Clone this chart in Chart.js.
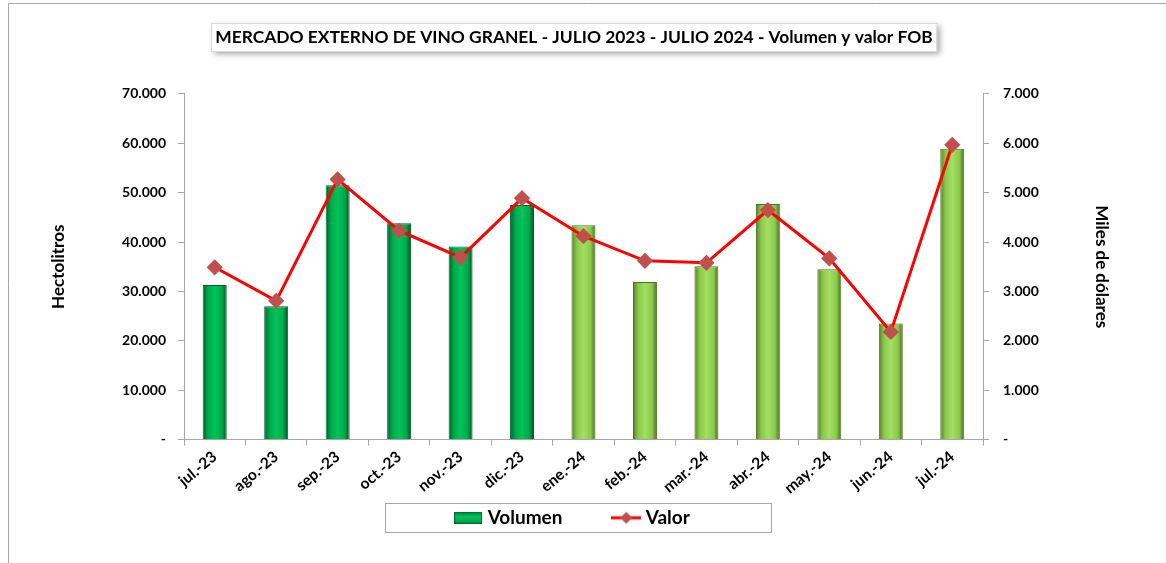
<!DOCTYPE html>
<html>
<head>
<meta charset="utf-8">
<script src="https://cdn.jsdelivr.net/npm/chart.js@4"></script>
<style>
  html, body { margin: 0; padding: 0; background: #fff; }
  #wrap { width: 1166px; height: 563px; }
</style>
</head>
<body>
<div id="wrap"><canvas id="myChart" width="1166" height="563"></canvas></div>
<script>
// Meses (jul.-23 a jul.-24)
let meses = ['jul.-23', 'ago.-23', 'sep.-23', 'oct.-23', 'nov.-23', 'dic.-23', 'ene.-24',
             'feb.-24', 'mar.-24', 'abr.-24', 'may.-24', 'jun.-24', 'jul.-24'];
// Volumen en hectolitros
let volumen = [31300, 27000, 51500, 43800, 39100, 47500, 43400, 31900, 35100, 47700, 34500, 23500, 58900];
// Valor FOB en miles de dolares
let valor = [3490, 2810, 5270, 4230, 3690, 4890, 4120, 3620, 3580, 4650, 3670, 2180, 5970];

const FONT = 'Lato, "Open Sans", sans-serif';
const TITULO_PX = 17.4;

function fmt(v) {
    if (v === 0) return '-';
    return String(v).replace(/\B(?=(\d{3})+(?!\d))/g, '.');
}

// colores: 2023 verde oscuro, 2024 verde claro
function esOscuro(i) {
    return meses[i || 0].endsWith('-23');
}

function barFill(ctx) {
    let chart = ctx.chart;
    let i = ctx.dataIndex;
    let plano = esOscuro(i) ? '#00B050' : '#92D050';
    if (i === undefined || !chart.scales.x) return plano;
    let x = chart.scales.x.getPixelForValue(i);
    if (!isFinite(x)) return plano;
    let g = chart.ctx.createLinearGradient(x - 12, 0, x + 12, 0);
    if (esOscuro(i)) {
        g.addColorStop(0, '#005f2b');
        g.addColorStop(0.22, '#00a84c');
        g.addColorStop(0.5, '#00c45a');
        g.addColorStop(0.8, '#00a84c');
        g.addColorStop(1, '#004f22');
    } else {
        g.addColorStop(0, '#557f27');
        g.addColorStop(0.22, '#8cc84c');
        g.addColorStop(0.5, '#a3df62');
        g.addColorStop(0.8, '#8cc84c');
        g.addColorStop(1, '#46691d');
    }
    return g;
}

// iconos de la leyenda
function iconoBarra() {
    let c = document.createElement('canvas');
    c.width = 28; c.height = 12;
    let x = c.getContext('2d');
    let g = x.createLinearGradient(0, 0, 0, 12);
    g.addColorStop(0, '#007a38');
    g.addColorStop(0.4, '#00c45a');
    g.addColorStop(1, '#009944');
    x.fillStyle = g;
    x.fillRect(0, 0, 28, 12);
    x.strokeStyle = '#006b30';
    x.strokeRect(0.5, 0.5, 27, 11);
    return c;
}
function iconoLinea() {
    let c = document.createElement('canvas');
    c.width = 30; c.height = 14;
    let x = c.getContext('2d');
    x.strokeStyle = '#ff0000';
    x.lineWidth = 3;
    x.beginPath(); x.moveTo(0, 7); x.lineTo(30, 7); x.stroke();
    x.fillStyle = '#c0504d';
    x.beginPath(); x.moveTo(15, 1); x.lineTo(21, 7); x.lineTo(15, 13); x.lineTo(9, 7); x.closePath(); x.fill();
    return c;
}
let iconos = [iconoBarra(), iconoLinea()];

const marcos = {
    id: 'marcos',
    beforeDraw(chart) {
        let c = chart.ctx;
        c.save();
        // borde del grafico
        c.strokeStyle = '#a6a6a6';
        c.lineWidth = 1;
        c.beginPath();
        c.moveTo(8.5, 563); c.lineTo(8.5, 3.5); c.lineTo(1166, 3.5);
        c.stroke();
        // caja del titulo
        let t = chart.titleBlock;
        if (t) {
            c.font = 'bold ' + TITULO_PX + 'px ' + FONT;
            let w = c.measureText(chart.options.plugins.title.text).width + 8;
            let cx = (t.left + t.right) / 2;
            let cy = t.top + t.options.padding.top + TITULO_PX * 0.6;
            let top = Math.round(cy - 14);
            c.shadowColor = 'rgba(0,0,0,0.35)';
            c.shadowBlur = 6;
            c.shadowOffsetX = 3;
            c.shadowOffsetY = 3;
            c.fillStyle = '#fff';
            c.fillRect(Math.round(cx - w / 2), top, w, 28);
            c.shadowColor = 'transparent';
            c.strokeStyle = '#d9d9d9';
            c.strokeRect(Math.round(cx - w / 2) + 0.5, top + 0.5, w, 28);
        }
        // caja de la leyenda
        let l = chart.legend;
        if (l && l.legendHitBoxes.length) {
            let hb = l.legendHitBoxes;
            let cy = hb[0].top + hb[0].height / 2;
            c.strokeStyle = '#a6a6a6';
            c.strokeRect(385.5, Math.round(cy - 14.5) + 0.5, 386, 29);
        }
        c.restore();
    }
};

let chart = new Chart(document.getElementById('myChart'), {
    data: {
        labels: meses,
        datasets: [{
            type: 'line',
            label: 'Valor',
            data: valor,
            yAxisID: 'y2',
            borderColor: '#ff0000',
            borderWidth: 3,
            pointStyle: 'rectRot',
            pointRadius: 6,
            pointHoverRadius: 6,
            pointBackgroundColor: '#c0504d',
            pointBorderColor: '#c0504d',
            tension: 0,
            order: 1
        }, {
            type: 'bar',
            label: 'Volumen',
            data: volumen,
            yAxisID: 'y',
            backgroundColor: barFill,
            borderColor: (ctx) => esOscuro(ctx.dataIndex) ? '#00642c' : '#4a7320',
            borderWidth: 1,
            barPercentage: 0.39,
            categoryPercentage: 1,
            order: 2
        }]
    },
    options: {
        responsive: false,
        animation: false,
        layout: { padding: { left: 8, right: 26, top: 0, bottom: 25.7 } },
        plugins: {
            title: {
                display: true,
                text: 'MERCADO EXTERNO DE VINO GRANEL - JULIO 2023 - JULIO 2024 - Volumen y valor FOB',
                color: '#000',
                font: { family: FONT, size: TITULO_PX, weight: 'bold' },
                padding: { top: 26.5, bottom: 46.6 }
            },
            legend: {
                position: 'bottom',
                reverse: true,
                labels: {
                    color: '#000',
                    font: { family: FONT, size: 19, weight: 'bold' },
                    usePointStyle: true,
                    pointStyleWidth: 20,
                    padding: 11,
                    generateLabels(ch) {
                        let items = Chart.defaults.plugins.legend.labels.generateLabels(ch);
                        items.forEach(it => {
                            if (it.datasetIndex === 1) {
                                it.pointStyle = iconos[0];
                                it.text = it.text + '\u2003\u2003\u2003';
                            } else {
                                it.pointStyle = iconos[1];
                            }
                        });
                        return items;
                    }
                }
            },
            tooltip: { enabled: false }
        },
        scales: {
            x: {
                grid: { drawOnChartArea: false, offset: true, color: '#a6a6a6', tickLength: 6 },
                border: { color: '#a6a6a6' },
                ticks: {
                    color: '#000',
                    font: { family: FONT, size: 15.5, weight: 'bold' },
                    minRotation: 40,
                    maxRotation: 40,
                    padding: 2
                },
                afterFit(s) { s.height = 57.7; }
            },
            y: {
                position: 'left',
                min: 0,
                max: 70000,
                ticks: {
                    stepSize: 10000,
                    color: '#000',
                    font: { family: FONT, size: 14, weight: 'bold' },
                    padding: 12,
                    callback: (v) => fmt(v)
                },
                grid: { drawOnChartArea: false, color: '#a6a6a6', tickLength: 6 },
                border: { color: '#a6a6a6' },
                title: {
                    display: true,
                    text: 'Hectolitros',
                    color: '#000',
                    font: { family: FONT, size: 17, weight: 'bold' },
                    padding: { top: 40, bottom: 0 }
                },
                afterFit(s) { s.width = 176; }
            },
            y2: {
                position: 'right',
                min: 0,
                max: 7000,
                ticks: {
                    stepSize: 1000,
                    color: '#000',
                    font: { family: FONT, size: 14, weight: 'bold' },
                    padding: 14,
                    callback: (v) => fmt(v)
                },
                grid: { drawOnChartArea: false, color: '#a6a6a6', tickLength: 6 },
                border: { color: '#a6a6a6' },
                title: {
                    display: true,
                    text: 'Miles de dólares',
                    color: '#000',
                    font: { family: FONT, size: 17, weight: 'bold' },
                    padding: { top: 28, bottom: 0 }
                },
                afterFit(s) { s.width = 157; }
            }
        }
    },
    plugins: [marcos]
});
</script>
</body>
</html>
